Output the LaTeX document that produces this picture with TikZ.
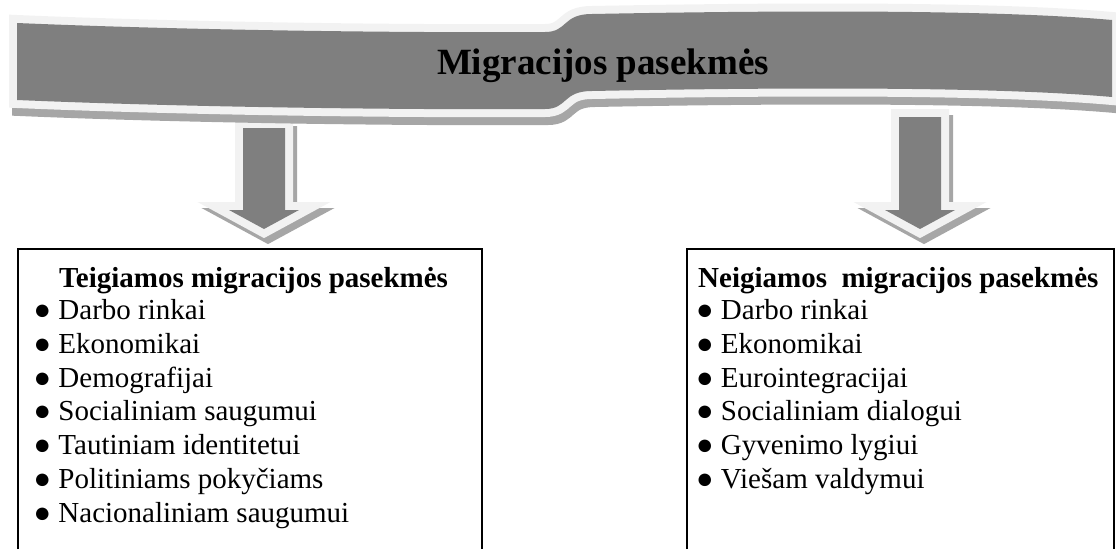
\documentclass[tikz,border=0pt]{standalone}
\usepackage{fontspec}
\setmainfont{Liberation Serif}
\definecolor{bandDark}{HTML}{7F7F7F}
\definecolor{bandLight}{HTML}{F2F2F2}
\definecolor{bandShadow}{HTML}{A6A6A6}
\begin{document}
\begin{tikzpicture}[x=1pt,y=-1pt,
  item/.style={anchor=base west, inner sep=0pt, font=\fontsize{29}{34}\selectfont},
  boxhead/.style={anchor=base west, inner sep=0pt, font=\bfseries\fontsize{29}{34}\selectfont},
  boxline/.style={draw=black, line width=1.6pt},
  shadowpart/.style={fill=bandShadow, draw=bandShadow, line width=16pt, line join=miter},
  lightpart/.style={fill=bandLight, draw=bandLight, line width=16pt, line join=miter},
  darkpart/.style={fill=bandDark},
  bannershape/.style={insert path={(17,23) .. controls (180,30) and (400,33) .. (545,32)
      .. controls (568,32) and (562,14) .. (592,14)
      .. controls (800,10) and (1000,10) .. (1112,20) -- (1112,97)
      .. controls (1000,87) and (800,87) .. (592,91)
      .. controls (562,91) and (568,109) .. (545,109)
      .. controls (400,110) and (180,107) .. (17,100) -- cycle}}
]
\useasboundingbox (0,0) rectangle (1116,549);

% arrows
\foreach \cx/\ty in {264/128, 920/117}{
  \path[shadowpart, shift={(4,6)}] (\cx-21,\ty) -- (\cx+21,\ty) -- (\cx+21,210) -- (\cx+35,210) -- (\cx,229) -- (\cx-35,210) -- (\cx-21,210) -- cycle;
  \path[lightpart] (\cx-21,\ty) -- (\cx+21,\ty) -- (\cx+21,210) -- (\cx+35,210) -- (\cx,229) -- (\cx-35,210) -- (\cx-21,210) -- cycle;
  \path[darkpart] (\cx-21,\ty) -- (\cx+21,\ty) -- (\cx+21,210) -- (\cx+35,210) -- (\cx,229) -- (\cx-35,210) -- (\cx-21,210) -- cycle;
}

% banner
\path[shadowpart, shift={(3,8)}] [bannershape];
\path[lightpart] [bannershape];
\path[darkpart] [bannershape];
\node[anchor=base, inner sep=0pt, font=\bfseries\fontsize{37}{44}\selectfont] (title) at (603,74) {Migracijos pasekmės};

% boxes
\draw[boxline] (18,549) -- (18,249) -- (482,249) -- (482,549);
\draw[boxline] (687,549) -- (687,249) -- (1114,249) -- (1114,549);

\node[boxhead] (lefthead) at (59,287) {Teigiamos migracijos pasekmės};
\node[boxhead] (righthead) at (698,287) {Neigiamos\ \ migracijos pasekmės};

\foreach \t [count=\i from 0] in {Darbo rinkai, Ekonomikai, Demografijai, Socialiniam saugumui, Tautiniam identitetui, Politiniams pokyčiams, Nacionaliniam saugumui}
  \node[item] (L\i) at (33.5,{319.5+33.8*\i}) {● \t};

\foreach \t [count=\i from 0] in {Darbo rinkai, Ekonomikai, Eurointegracijai, Socialiniam dialogui, Gyvenimo lygiui, Viešam valdymui}
  \node[item] (R\i) at (696,{319.5+33.8*\i}) {● \t};
\end{tikzpicture}
\end{document}
